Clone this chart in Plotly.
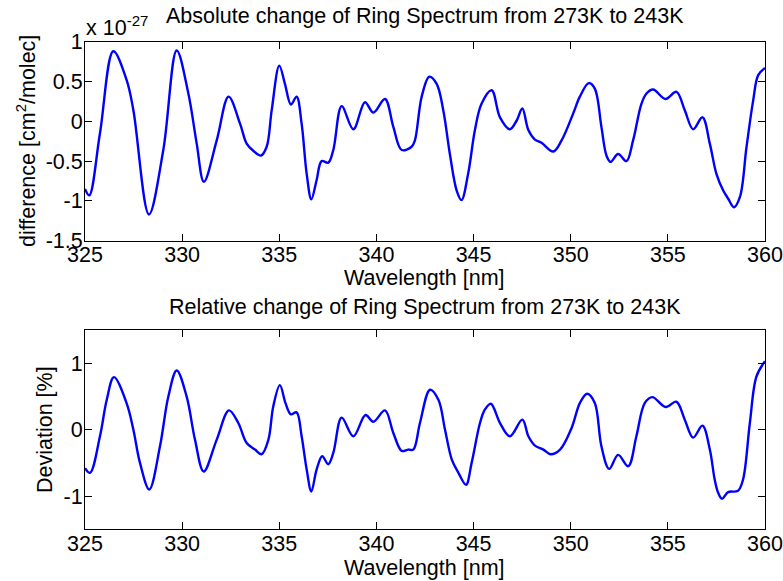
import plotly.graph_objects as go

# ---- data ----
abs_wavelength = [325.0, 325.22, 325.77, 326.46, 327.14, 327.49, 328.29, 329.03, 329.72, 330.32,
                  330.75, 331.12, 331.78, 332.39, 332.98, 333.32, 333.66, 334.06, 334.35, 334.61,
                  335.0, 335.29, 335.6, 335.89, 336.15, 336.41, 336.65, 336.92, 337.18, 337.52,
                  337.78, 338.21, 338.81, 339.41, 339.84, 340.44, 340.87, 341.3, 341.81, 341.98,
                  342.33, 342.72, 343.1, 343.44, 343.78, 344.13, 344.38, 344.72, 345.07, 345.41,
                  345.93, 346.36, 346.87, 347.22, 347.51, 347.82, 348.16, 348.5, 349.1, 349.53,
                  350.13, 350.47, 350.93, 351.24, 351.58, 351.84, 352.05, 352.44, 352.87, 353.21,
                  353.64, 353.9, 354.24, 354.88, 355.44, 355.87, 356.3, 356.78, 357.16, 357.5,
                  357.85, 358.1, 358.4, 358.71, 359.05, 359.39, 359.65, 360.0]
abs_difference = [-0.85, -0.93, -0.15, 0.88, 0.52, 0.14, -1.17, -0.36, 0.89, 0.35,
                  -0.28, -0.76, -0.24, 0.31, -0.03, -0.28, -0.37, -0.43, -0.32, 0.14,
                  0.70, 0.47, 0.21, 0.31, -0.03, -0.66, -0.98, -0.74, -0.50, -0.52,
                  -0.36, 0.19, -0.10, 0.24, 0.11, 0.28, -0.07, -0.36, -0.32, -0.24,
                  0.31, 0.56, 0.47, 0.14, -0.41, -0.87, -0.99, -0.66, -0.11, 0.22,
                  0.39, 0.05, -0.10, 0.01, 0.16, -0.11, -0.23, -0.27, -0.38, -0.24,
                  0.10, 0.31, 0.48, 0.41, -0.07, -0.43, -0.51, -0.41, -0.50, -0.24,
                  0.22, 0.35, 0.40, 0.28, 0.37, 0.14, -0.10, 0.05, -0.28, -0.66,
                  -0.87, -0.97, -1.08, -0.95, -0.32, 0.26, 0.58, 0.67]

rel_wavelength = [325.0, 325.26, 325.77, 326.12, 326.49, 327.14, 327.49, 327.83, 328.31, 328.86,
                  329.29, 329.72, 330.23, 330.66, 331.11, 331.78, 332.41, 332.89, 333.32, 333.75,
                  334.09, 334.44, 334.69, 335.03, 335.32, 335.6, 335.89, 336.15, 336.41, 336.65,
                  336.92, 337.21, 337.52, 337.78, 338.21, 338.81, 339.44, 339.84, 340.44, 340.87,
                  341.3, 341.64, 341.9, 342.24, 342.76, 343.19, 343.53, 343.88, 344.22, 344.61,
                  344.9, 345.33, 345.58, 345.89, 346.36, 346.87, 347.51, 347.82, 348.16, 348.59,
                  348.97, 349.45, 350.05, 350.47, 350.85, 351.24, 351.58, 351.98, 352.44, 352.96,
                  353.38, 353.81, 354.2, 354.89, 355.44, 355.87, 356.3, 356.78, 357.16, 357.41,
                  357.59, 357.79, 358.1, 358.61, 358.87, 359.22, 359.56, 360.0]
rel_deviation = [-0.58, -0.65, -0.10, 0.45, 0.79, 0.40, 0.0, -0.50, -0.90, -0.25,
                 0.50, 0.89, 0.50, -0.15, -0.63, -0.15, 0.29, 0.10, -0.20, -0.30,
                 -0.37, -0.15, 0.35, 0.67, 0.40, 0.23, 0.26, -0.10, -0.60, -0.93,
                 -0.60, -0.40, -0.52, -0.35, 0.18, -0.10, 0.22, 0.12, 0.29, -0.05,
                 -0.32, -0.30, -0.30, 0.10, 0.60, 0.45, 0.0, -0.45, -0.65, -0.83,
                 -0.50, 0.10, 0.30, 0.39, 0.10, -0.10, 0.15, -0.10, -0.24, -0.30,
                 -0.37, -0.30, 0.03, 0.40, 0.54, 0.40, -0.25, -0.59, -0.38, -0.55,
                 -0.10, 0.40, 0.49, 0.34, 0.42, 0.15, -0.12, 0.06, -0.30, -0.75,
                 -0.95, -1.04, -0.94, -0.92, -0.75, 0.10, 0.80, 1.03]

x_tickvals = [325, 330, 335, 340, 345, 350, 355, 360]
x_ticktext = ["325", "330", "335", "340", "345", "350", "355", "360"]
top_tickvals = [1, 0.5, 0, -0.5, -1, -1.5]
top_ticktext = ["1", "0.5", "0", "-0.5", "-1", "-1.5"]
bot_tickvals = [1, 0, -1]
bot_ticktext = ["1", "0", "-1"]

W, H = 783, 581
FONT = "Liberation Sans, Arial, Helvetica, sans-serif"
FS = 21.5


def px_x(p):
    return p / W


def px_y(p):
    return 1 - p / H


fig = go.Figure()
fig.add_trace(go.Scatter(x=abs_wavelength, y=abs_difference, mode="lines",
                         line=dict(color="#0000FF", width=2.4, shape="spline", smoothing=1.0),
                         xaxis="x", yaxis="y", showlegend=False))
fig.add_trace(go.Scatter(x=rel_wavelength, y=rel_deviation, mode="lines",
                         line=dict(color="#0000FF", width=2.4, shape="spline", smoothing=1.0),
                         xaxis="x2", yaxis="y2", showlegend=False))

axis_common = dict(showline=True, linecolor="black", linewidth=1, mirror="ticks",
                   ticks="inside", ticklen=7, tickcolor="black", tickwidth=1,
                   showgrid=False, zeroline=False, automargin=False,
                   tickfont=dict(family=FONT, size=FS, color="black"))

xd = [px_x(85), px_x(765)]
fig.update_layout(
    width=W, height=H,
    margin=dict(l=0, r=0, t=0, b=0, autoexpand=False),
    paper_bgcolor="white", plot_bgcolor="white",
    font=dict(family=FONT, size=FS, color="black"),
    xaxis=dict(domain=xd, range=[325, 360], anchor="y", ticklabelstandoff=-6,
               tickvals=x_tickvals, ticktext=x_ticktext, **axis_common),
    yaxis=dict(domain=[px_y(240.7), px_y(41.7)], range=[-1.5, 1], anchor="x", ticklabelstandoff=-3,
               tickvals=top_tickvals, ticktext=top_ticktext, **axis_common),
    xaxis2=dict(domain=xd, range=[325, 360], anchor="y2", ticklabelstandoff=-5,
                tickvals=x_tickvals, ticktext=x_ticktext, **axis_common),
    yaxis2=dict(domain=[px_y(529.3), px_y(330)], range=[-1.5, 1.5], anchor="x2", ticklabelstandoff=-3,
                tickvals=bot_tickvals, ticktext=bot_ticktext, **axis_common),
)

ann = [
    dict(text="x 10<sup>-27</sup>", x=px_x(84), y=px_y(42), xanchor="left", yanchor="bottom"),
    dict(text="Absolute change of Ring Spectrum from 273K to 243K", x=px_x(425), y=px_y(16),
         xanchor="center", yanchor="middle"),
    dict(text="Wavelength [nm]", x=px_x(424), y=px_y(278), xanchor="center", yanchor="middle"),
    dict(text="difference [cm<sup>2</sup>/molec]", x=px_x(26), y=px_y(141), xanchor="center",
         yanchor="middle", textangle=-90),
    dict(text="Relative change of Ring Spectrum from 273K to 243K", x=px_x(425), y=px_y(307),
         xanchor="center", yanchor="middle"),
    dict(text="Deviation [%]", x=px_x(45), y=px_y(430), xanchor="center", yanchor="middle",
         textangle=-90),
    dict(text="Wavelength [nm]", x=px_x(424), y=px_y(568), xanchor="center", yanchor="middle"),
]
for a in ann:
    a.update(xref="paper", yref="paper", showarrow=False,
             font=dict(family=FONT, size=FS, color="black"))
fig.update_layout(annotations=ann)

fig.write_html("out.html", config={"displayModeBar": False},
               post_script="document.body.style.margin='0';document.body.style.overflow='hidden';")
